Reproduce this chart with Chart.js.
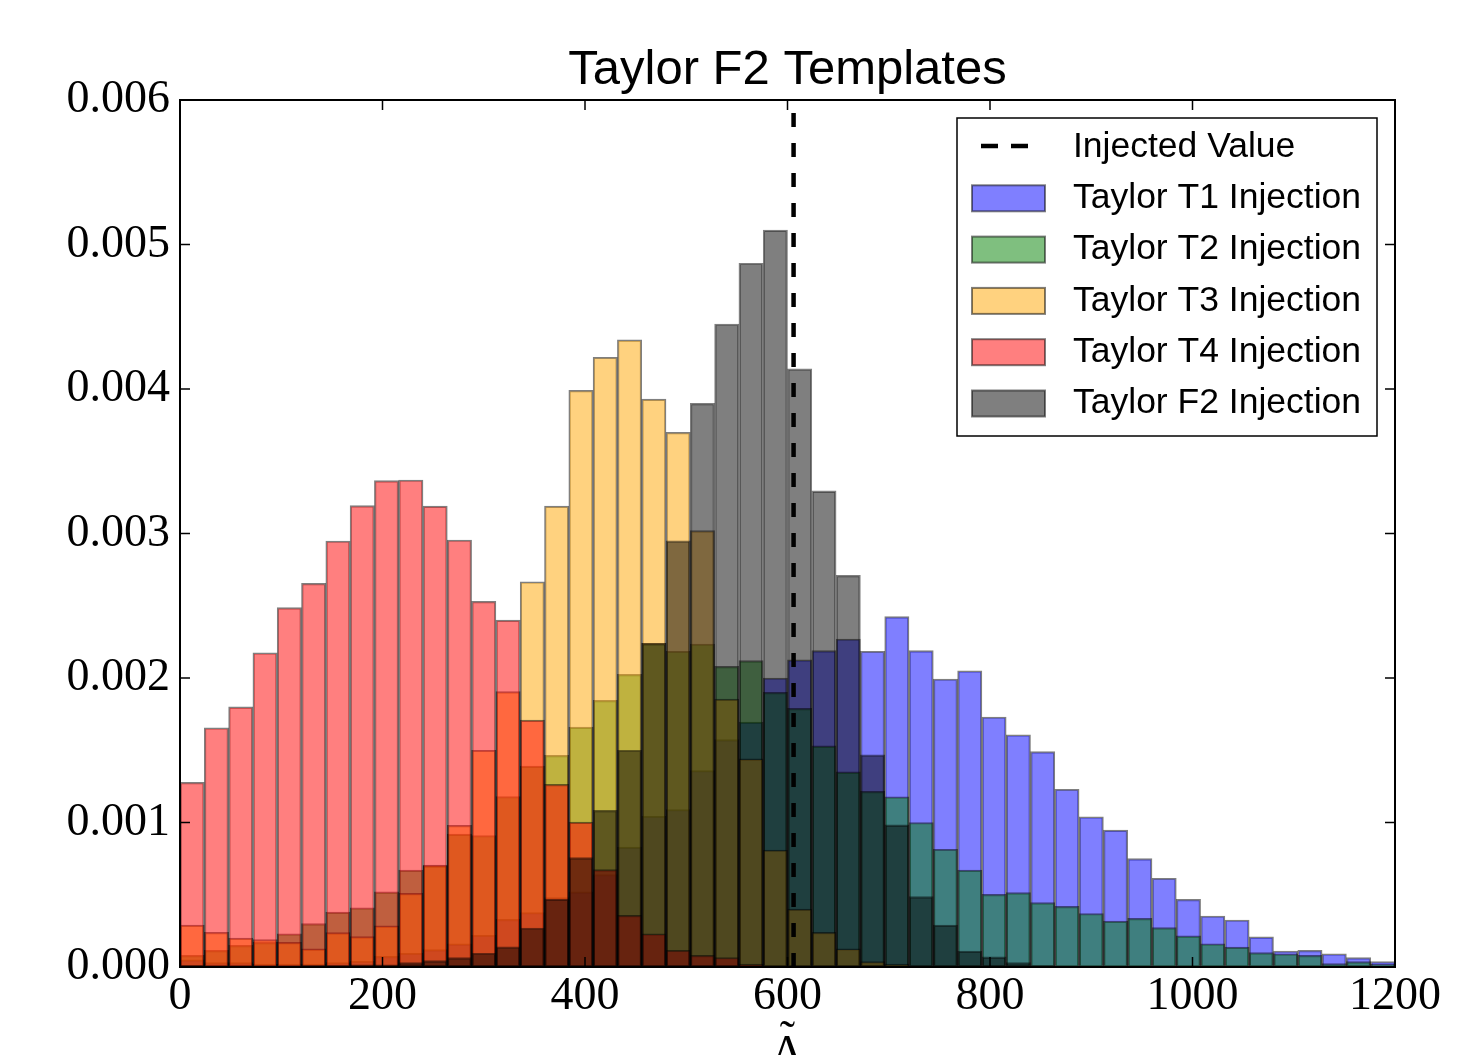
<!DOCTYPE html>
<html>
<head>
<meta charset="utf-8">
<title>Taylor F2 Templates</title>
<script src="https://cdn.jsdelivr.net/npm/chart.js@4.4.1/dist/chart.umd.min.js"></script>
<style>
  html, body { margin: 0; padding: 0; background: #fff; }
  canvas { display: block; }
</style>
</head>
<body>
<canvas id="chart" width="1461" height="1055"></canvas>
<script>
// bin centres of the 50 histogram bins (width 24)
const binCenters = [12, 36, 60, 84, 108, 132, 156, 180, 204, 228,
    252, 276, 300, 324, 348, 372, 396, 420, 444, 468,
    492, 516, 540, 564, 588, 612, 636, 660, 684, 708,
    732, 756, 780, 804, 828, 852, 876, 900, 924, 948,
    972, 996, 1020, 1044, 1068, 1092, 1116, 1140, 1164, 1188];

const injectedValue = 606;

const t1Values = [0.00005, 0.00003, 0.00003, 0.00002, 0.00002, 0.00002, 0.00003, 0.00004, 0.000074, 0.000095,
    0.00012, 0.00016, 0.00022, 0.00033, 0.000377, 0.00048, 0.00052, 0.00064, 0.00083, 0.001043,
    0.00109, 0.00136, 0.001573, 0.001695, 0.0020, 0.002126, 0.00219, 0.00227, 0.002185, 0.002425,
    0.00219, 0.001993, 0.00205, 0.00173, 0.001607, 0.00149, 0.00123, 0.00104, 0.000947, 0.00075,
    0.000614, 0.000468, 0.000353, 0.000325, 0.000208, 0.000111, 0.000115, 0.000092, 0.000065, 0.000037];

const t2Values = [0.00008, 0.000115, 0.00015, 0.00017, 0.00023, 0.0003, 0.00038, 0.00041, 0.00052, 0.00067,
    0.0007, 0.00092, 0.00091, 0.00118, 0.00139, 0.001465, 0.00166, 0.001845, 0.002025, 0.00224,
    0.002185, 0.002235, 0.00208, 0.00212, 0.0019, 0.00179, 0.00153, 0.00135, 0.001215, 0.001178,
    0.001, 0.000815, 0.00067, 0.000503, 0.000515, 0.000446, 0.00042, 0.00037, 0.000318, 0.000337,
    0.000272, 0.000215, 0.000161, 0.000138, 0.000099, 0.000092, 0.000081, 0.000023, 0.000037, 0.000018];

const t3Values = [0.00029, 0.00024, 0.0002, 0.00019, 0.00017, 0.000125, 0.000238, 0.00021, 0.000285, 0.00051,
    0.000705, 0.00098, 0.0015, 0.001906, 0.002666, 0.00319, 0.00399, 0.00422, 0.00434, 0.00393,
    0.0037, 0.00302, 0.001854, 0.00144, 0.00081, 0.0004, 0.00024, 0.000126, 0.000037, 0.00002,
    0, 0, 0, 0, 0, 0, 0, 0, 0, 0,
    0, 0, 0, 0, 0, 0, 0, 0, 0, 0];

const t4Values = [0.001278, 0.001656, 0.0018, 0.002175, 0.002487, 0.002655, 0.002948, 0.003193, 0.003366, 0.00337,
    0.00319, 0.002955, 0.00253, 0.0024, 0.001708, 0.001264, 0.001003, 0.000674, 0.000357, 0.00023,
    0.000116, 0.00008, 0.000066, 0.00002, 0.000005, 0, 0, 0, 0, 0,
    0, 0, 0, 0, 0, 0, 0, 0, 0, 0,
    0, 0, 0, 0, 0, 0, 0, 0, 0, 0];

const f2Values = [0.00001, 0.000005, 0.000005, 0.000005, 0.000005, 0.00001, 0.00001, 0.000015, 0.000015, 0.00003,
    0.000044, 0.000065, 0.000095, 0.00014, 0.00027, 0.00047, 0.000757, 0.001084, 0.0015, 0.00224,
    0.00295, 0.0039, 0.00445, 0.00487, 0.0051, 0.00414, 0.003295, 0.00271, 0.001469, 0.000984,
    0.000487, 0.00029, 0.00011, 0.00007, 0.00003, 0.00001, 0, 0, 0, 0,
    0, 0, 0, 0, 0, 0, 0, 0, 0, 0];

const xTicks = [0, 200, 400, 600, 800, 1000, 1200];
const yTicks = [0, 0.001, 0.002, 0.003, 0.004, 0.005, 0.006];

function histBars(label, values, color, order) {
    return {
        type: 'bar',
        label: label,
        data: values.map((v, i) => ({ x: binCenters[i], y: v })),
        backgroundColor: color,
        borderColor: 'rgba(0,0,0,0.5)',
        borderWidth: 1.5,
        borderSkipped: false,
        grouped: false,
        barPercentage: 1,
        categoryPercentage: 1,
        order: order
    };
}

// centre the title over the plot area rather than the whole canvas
const titleOverPlot = {
    id: 'titleOverPlot',
    afterLayout(chart) {
        if (chart.titleBlock) {
            chart.titleBlock.left = chart.chartArea.left;
            chart.titleBlock.right = chart.chartArea.right;
        }
    }
};

// inward ticks on all four sides plus the frame
const frameTicks = {
    id: 'frameTicks',
    afterDraw(chart) {
        const { ctx, chartArea: a, scales } = chart;
        ctx.save();
        ctx.strokeStyle = '#000';
        ctx.lineWidth = 1.5;
        ctx.beginPath();
        xTicks.forEach(v => {
            const px = scales.x.getPixelForValue(v);
            ctx.moveTo(px, a.bottom); ctx.lineTo(px, a.bottom - 10);
            ctx.moveTo(px, a.top); ctx.lineTo(px, a.top + 10);
        });
        yTicks.forEach(v => {
            const py = scales.y.getPixelForValue(v);
            ctx.moveTo(a.left, py); ctx.lineTo(a.left + 10, py);
            ctx.moveTo(a.right, py); ctx.lineTo(a.right - 10, py);
        });
        ctx.stroke();
        ctx.lineWidth = 2;
        ctx.strokeRect(a.left, a.top, a.right - a.left, a.bottom - a.top);
        ctx.restore();
    }
};

// matplotlib style legend box in the upper right
const boxLegend = {
    id: 'boxLegend',
    afterDraw(chart) {
        const { ctx, chartArea: a } = chart;
        const w = 420, h = 318;
        const left = a.right - 18 - w, top = a.top + 18;
        const rowH = 51.3;
        ctx.save();
        ctx.fillStyle = '#fff';
        ctx.fillRect(left, top, w, h);
        ctx.strokeStyle = '#000';
        ctx.lineWidth = 1.5;
        ctx.strokeRect(left, top, w, h);
        ctx.font = '35.5px "Liberation Sans", Arial, sans-serif';
        ctx.textBaseline = 'middle';
        ctx.textAlign = 'left';
        chart.data.datasets.forEach((ds, i) => {
            const cy = top + 29 + i * rowH;
            if (ds.type === 'line') {
                ctx.save();
                ctx.strokeStyle = ds.borderColor;
                ctx.lineWidth = ds.borderWidth;
                ctx.setLineDash([17, 13]);
                ctx.beginPath();
                ctx.moveTo(left + 24, cy - 1);
                ctx.lineTo(left + 71, cy - 1);
                ctx.stroke();
                ctx.restore();
            } else {
                ctx.fillStyle = ds.backgroundColor;
                ctx.fillRect(left + 15, cy - 13, 73, 26);
                ctx.strokeStyle = 'rgba(0,0,0,0.5)';
                ctx.lineWidth = 2;
                ctx.strokeRect(left + 15, cy - 13, 73, 26);
            }
            ctx.fillStyle = '#000';
            ctx.fillText(ds.label, left + 116, cy);
        });
        ctx.restore();
    }
};

new Chart(document.getElementById('chart'), {
    type: 'bar',
    data: {
        datasets: [
            {
                type: 'line',
                label: 'Injected Value',
                data: [{ x: injectedValue, y: 0 }, { x: injectedValue, y: 0.006 }],
                borderColor: '#000',
                borderWidth: 4.5,
                borderDash: [14, 16],
                pointRadius: 0,
                fill: false,
                order: 0
            },
            histBars('Taylor T1 Injection', t1Values, 'rgba(0,0,255,0.5)', 5),
            histBars('Taylor T2 Injection', t2Values, 'rgba(0,128,0,0.5)', 4),
            histBars('Taylor T3 Injection', t3Values, 'rgba(255,165,0,0.5)', 3),
            histBars('Taylor T4 Injection', t4Values, 'rgba(255,0,0,0.5)', 2),
            histBars('Taylor F2 Injection', f2Values, 'rgba(0,0,0,0.5)', 1)
        ]
    },
    options: {
        responsive: false,
        animation: false,
        events: [],
        layout: { padding: { left: 0, right: 66, top: 0, bottom: 0 } },
        plugins: {
            legend: { display: false },
            tooltip: { enabled: false },
            title: {
                display: true,
                text: 'Taylor F2 Templates',
                color: '#000',
                font: { family: '"Liberation Sans", Arial, sans-serif', size: 49, weight: 'normal', lineHeight: 1.2 },
                padding: { top: 41.2, bottom: 0 }
            }
        },
        scales: {
            x: {
                type: 'linear',
                min: 0,
                max: 1200,
                offset: false,
                grid: { display: false, drawTicks: false },
                border: { display: false },
                afterBuildTicks: s => { s.ticks = xTicks.map(v => ({ value: v })); },
                afterFit: s => { s.height = 88; },
                ticks: {
                    padding: 2,
                    color: '#000',
                    maxRotation: 0,
                    font: { family: '"Liberation Serif", "DejaVu Serif", serif', size: 46 },
                    callback: v => String(v)
                },
                title: {
                    display: true,
                    text: ['\u02DC', 'Λ'],
                    color: '#000',
                    font: { family: '"Liberation Serif", "DejaVu Serif", serif', size: 46, lineHeight: 0.337 },
                    padding: { top: 0, bottom: -7.75 }
                }
            },
            y: {
                min: 0,
                max: 0.006,
                grid: { display: false, drawTicks: false },
                border: { display: false },
                afterBuildTicks: s => { s.ticks = yTicks.map(v => ({ value: v })); },
                afterFit: s => { s.width = 180; },
                ticks: {
                    padding: 10,
                    color: '#000',
                    font: { family: '"Liberation Serif", "DejaVu Serif", serif', size: 46 },
                    callback: v => v.toFixed(3)
                }
            }
        }
    },
    plugins: [titleOverPlot, frameTicks, boxLegend]
});
</script>
</body>
</html>
